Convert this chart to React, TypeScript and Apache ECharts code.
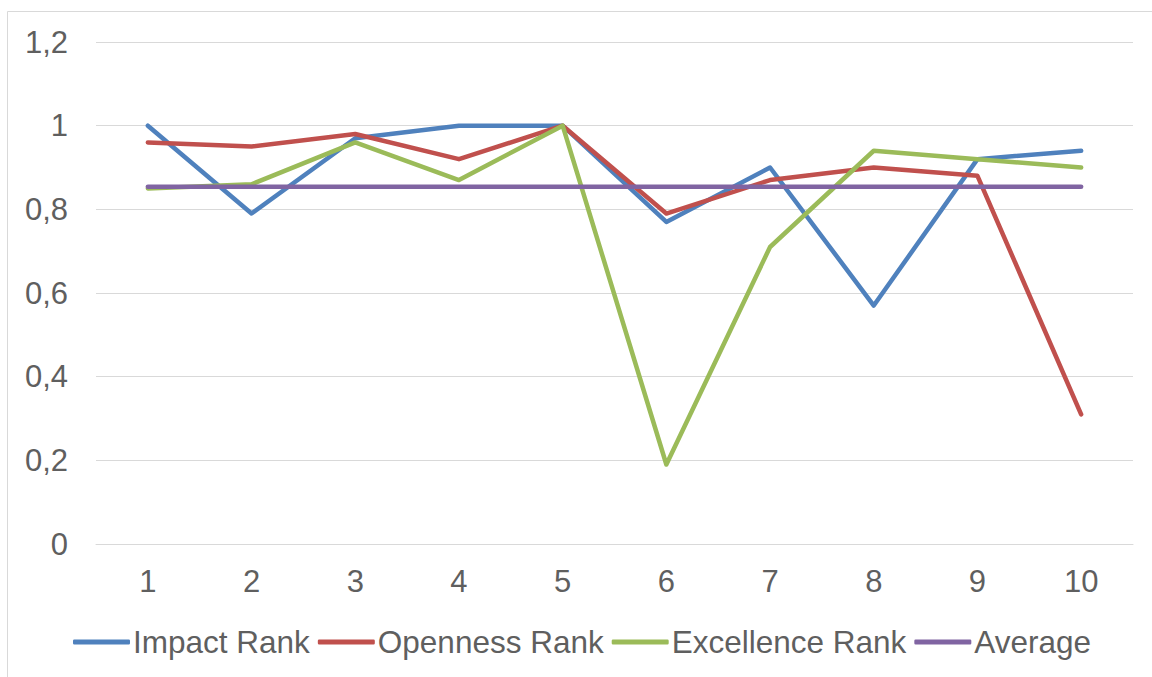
import React, { useEffect, useRef } from "react";
import * as echarts from "echarts";

const categories = ["1", "2", "3", "4", "5", "6", "7", "8", "9", "10"];
const impactRank = [1.0, 0.79, 0.97, 1.0, 1.0, 0.77, 0.9, 0.57, 0.92, 0.94];
const opennessRank = [0.96, 0.95, 0.98, 0.92, 1.0, 0.79, 0.87, 0.9, 0.88, 0.31];
const excellenceRank = [0.85, 0.86, 0.96, 0.87, 1.0, 0.19, 0.71, 0.94, 0.92, 0.9];
const average = [0.854, 0.854, 0.854, 0.854, 0.854, 0.854, 0.854, 0.854, 0.854, 0.854];

const seriesNames = ["Impact Rank", "Openness Rank", "Excellence Rank", "Average"];
const colors = ["#4F81BD", "#C0504D", "#9BBB59", "#8064A2"];

export default function App() {
  const ref = useRef<HTMLDivElement>(null);
  useEffect(() => {
    if (!ref.current) return;
    const chart = echarts.init(ref.current, undefined, { renderer: "svg" });
    const font = "Liberation Sans, Arial, sans-serif";
    const data = [impactRank, opennessRank, excellenceRank, average];
    chart.setOption({
      animation: false,
      backgroundColor: "#ffffff",
      color: colors,
      textStyle: { fontFamily: font },
      graphic: [
        {
          type: "rect",
          shape: { x: 7.5, y: 11.5, width: 1300, height: 800 },
          style: { fill: "none", stroke: "#d9d9d9", lineWidth: 1 },
          silent: true,
          z: -10,
        },
      ],
      grid: { left: 96, right: 19, top: 42, bottom: 133 },
      legend: {
        left: 68,
        top: 621,
        itemWidth: 57,
        itemHeight: 5,
        itemGap: 8,
        icon: "roundRect",
        textStyle: { color: "#5f5f5f", fontSize: 31.5, fontFamily: font, padding: [0, 0, 0, -2] },
        data: seriesNames,
      },
      xAxis: {
        type: "category",
        data: categories,
        boundaryGap: true,
        axisTick: { show: false },
        axisLine: { show: true, lineStyle: { color: "#d9d9d9", width: 1 } },
        axisLabel: { color: "#5f5f5f", fontSize: 31, margin: 22, fontFamily: font },
      },
      yAxis: {
        type: "value",
        min: 0,
        max: 1.2,
        interval: 0.2,
        axisLine: { show: false },
        axisTick: { show: false },
        splitLine: { lineStyle: { color: "#d9d9d9", width: 1 } },
        axisLabel: {
          color: "#5f5f5f",
          fontSize: 31,
          margin: 28,
          fontFamily: font,
          formatter: (v: number) => String(Math.round(v * 10) / 10).replace(".", ","),
        },
      },
      series: seriesNames.map((name, i) => ({
        name,
        type: "line",
        data: data[i],
        symbol: "none",
        lineStyle: { width: 4.5, color: colors[i], cap: "round", join: "round" },
        itemStyle: { color: colors[i] },
      })),
    });
    return () => chart.dispose();
  }, []);
  return (
    <div
      ref={ref}
      style={{ position: "fixed", left: 0, top: 0, width: 1152, height: 677 }}
    />
  );
}
